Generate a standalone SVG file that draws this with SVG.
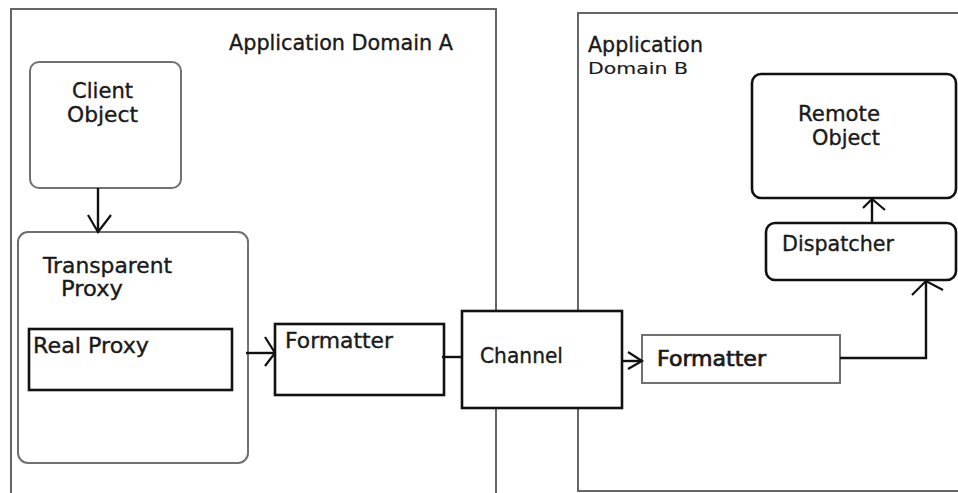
<svg xmlns="http://www.w3.org/2000/svg" width="958" height="493" viewBox="0 0 958 493">
<style>
text{font-family:"DejaVu Sans","Verdana",sans-serif;font-size:20.5px;fill:#1a1a1a;stroke:#1a1a1a;stroke-width:0.35}
.dom{fill:none;stroke:#666;stroke-width:2}
.soft{fill:#fff;stroke:#707070;stroke-width:2}
.hard{fill:#fff;stroke:#111;stroke-width:2.6}
.con{fill:none;stroke:#111;stroke-width:2.4;stroke-linejoin:miter}
.head{fill:none;stroke:#111;stroke-width:2.2}
</style>
<rect width="958" height="493" fill="#fff"/>
<g id="domainA">
<path class="dom" d="M11,495 V9 H496 V495"/>
<text x="229" y="50" textLength="224" lengthAdjust="spacingAndGlyphs">Application Domain A</text>
</g>
<g id="domainB">
<path class="dom" d="M962,13 H578 V491 H962"/>
<text x="588" y="52" textLength="115" lengthAdjust="spacingAndGlyphs">Application</text>
<text x="588" y="74" style="font-size:15.5px;stroke-width:0.15" textLength="100" lengthAdjust="spacingAndGlyphs">Domain B</text>
</g>
<g id="client">
<rect class="soft" x="30" y="62" width="151" height="126" rx="9"/>
<text x="72" y="98" textLength="61" lengthAdjust="spacingAndGlyphs">Client</text>
<text x="67" y="122" textLength="71" lengthAdjust="spacingAndGlyphs">Object</text>
</g>
<g id="transparentProxy">
<rect class="soft" x="18" y="232" width="230" height="231" rx="10"/>
<text x="43" y="273" textLength="129" lengthAdjust="spacingAndGlyphs">Transparent</text>
<text x="61" y="296" textLength="62" lengthAdjust="spacingAndGlyphs">Proxy</text>
</g>
<g id="realProxy">
<rect class="hard" x="29" y="329" width="203" height="61"/>
<text x="33" y="353" textLength="116" lengthAdjust="spacingAndGlyphs">Real Proxy</text>
</g>
<g id="formatterA">
<rect class="hard" x="275" y="324" width="169" height="71"/>
<text x="285" y="348" textLength="108" lengthAdjust="spacingAndGlyphs">Formatter</text>
</g>
<g id="formatterB">
<rect class="soft" x="642" y="335" width="198" height="48"/>
<text x="657" y="366" textLength="109" lengthAdjust="spacingAndGlyphs" style="stroke-width:0.7">Formatter</text>
</g>
<g id="remoteObject">
<rect class="hard" x="752" y="74" width="204" height="124" rx="9"/>
<text x="798" y="121" textLength="82" lengthAdjust="spacingAndGlyphs">Remote</text>
<text x="812" y="145" textLength="68" lengthAdjust="spacingAndGlyphs">Object</text>
</g>
<g id="dispatcher">
<rect class="hard" x="766" y="223" width="190" height="57" rx="9"/>
<text x="782" y="251" textLength="112" lengthAdjust="spacingAndGlyphs">Dispatcher</text>
</g>
<g id="connectors">
<path class="con" d="M98,188 V232"/>
<path class="head" d="M88,215 L98,232 L111,215"/>
<path class="con" d="M246,353 H275"/>
<path class="head" d="M265,337 L275,353 L265,366"/>
<path class="con" d="M442,357 H463"/>
<path class="con" d="M618,361 H642"/>
<path class="head" d="M628,352 L642,361 L628,369"/>
<path class="con" d="M840,358 H926 V281"/>
<path class="head" d="M912,295 L926,281 L943,290"/>
<path class="con" d="M872,223 V199"/>
<path class="head" d="M863,208 L872,199 L885,210"/>
</g>
<g id="channel">
<rect class="hard" x="462" y="311" width="160" height="97"/>
<text x="480" y="363" textLength="83" lengthAdjust="spacingAndGlyphs">Channel</text>
</g>
</svg>
